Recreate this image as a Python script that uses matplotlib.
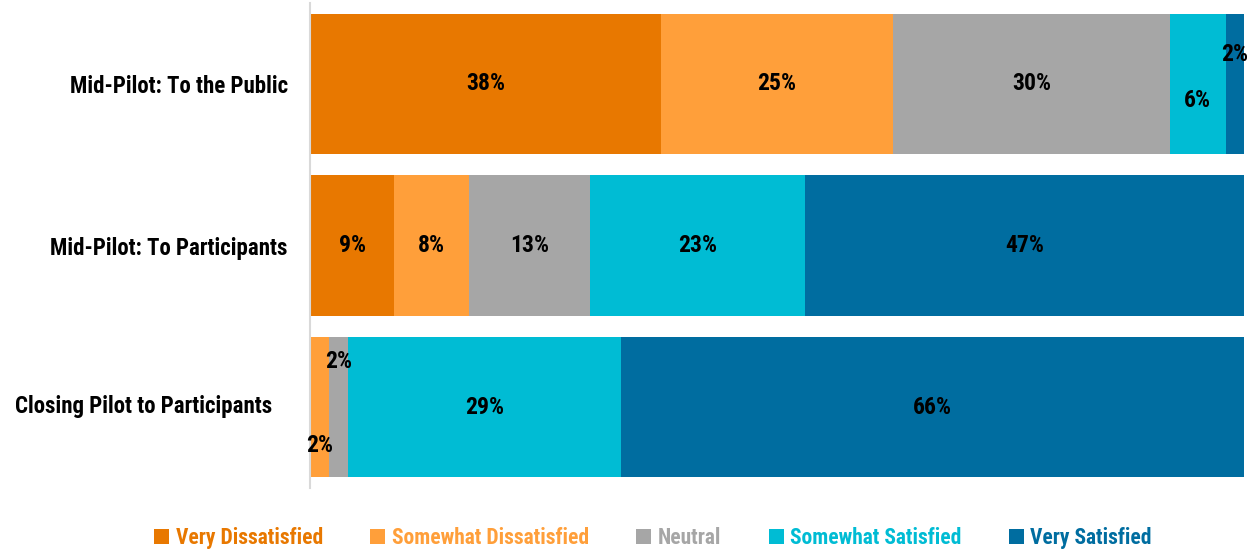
import matplotlib.pyplot as plt
from matplotlib.transforms import ScaledTranslation
import numpy as np

plt.rcParams['font.family'] = ['Roboto Condensed', 'Archivo Narrow', 'PT Sans Narrow',
                               'Liberation Sans', 'DejaVu Sans']
plt.rcParams['font.weight'] = 'bold'

groups = ["Mid-Pilot: To the Public", "Mid-Pilot: To Participants", "Closing Pilot to Participants"]
levels = ["Very Dissatisfied", "Somewhat Dissatisfied", "Neutral", "Somewhat Satisfied", "Very Satisfied"]
colors = ["#E87800", "#FF9F3A", "#A6A6A6", "#00BCD4", "#006DA0"]

very_dissatisfied = [38, 9, 0]
somewhat_dissatisfied = [25, 8, 2]
neutral = [30, 13, 2]
somewhat_satisfied = [6, 23, 29]
very_satisfied = [2, 47, 66]

vals = np.array([very_dissatisfied, somewhat_dissatisfied, neutral,
                 somewhat_satisfied, very_satisfied], dtype=float)
# rounded percentages don't always add to 100, scale each row to a full bar
share = vals / vals.sum(axis=0) * 100

# vertical nudges for labels that don't fit inside thin segments
nudge = {(0, 4): -0.18, (0, 3): 0.10, (2, 2): -0.285, (2, 1): 0.235}

fig = plt.figure(figsize=(12.55, 5.5), dpi=100)
ax = fig.add_axes([310 / 1255, 1 - 488 / 550, 934 / 1255, 485 / 550])

y = np.arange(len(groups))
left = np.zeros(len(groups))
for i, lvl in enumerate(levels):
    ax.barh(y, share[i], left=left, height=0.867, color=colors[i], label=lvl)
    for j in range(len(groups)):
        if vals[i, j] > 0:
            ax.text(left[j] + share[i, j] / 2, y[j] + nudge.get((j, i), 0),
                    "%d%%" % vals[i, j], ha='center', va='center',
                    fontsize=17, fontweight='bold', color='black')
    left += share[i]

ax.set_xlim(0, 100)
ax.set_ylim(2.5, -0.5)
ax.set_yticks(y)
ax.set_yticklabels(groups, fontsize=16.5, fontweight='bold')
ax.tick_params(axis='y', length=0, pad=16)
ax.set_xticks([])
for s in ['top', 'right', 'bottom']:
    ax.spines[s].set_visible(False)
ax.spines['left'].set_color('#D9D9D9')
ax.spines['left'].set_linewidth(1.5)

# last label sits a little left and up of the others
lab = ax.get_yticklabels()[2]
lab.set_transform(lab.get_transform() + ScaledTranslation(-0.16, 0.03, fig.dpi_scale_trans))

leg = fig.legend(loc='center', bbox_to_anchor=(653 / 1255, 1 - 538 / 550), ncol=5, frameon=False,
                 handlelength=0.7, handleheight=0.7, handletextpad=0.3,
                 columnspacing=2.2, prop={'size': 15.5, 'weight': 'bold'})
for txt, c in zip(leg.get_texts(), colors):
    txt.set_color(c)

plt.savefig("out.png", dpi=100)
